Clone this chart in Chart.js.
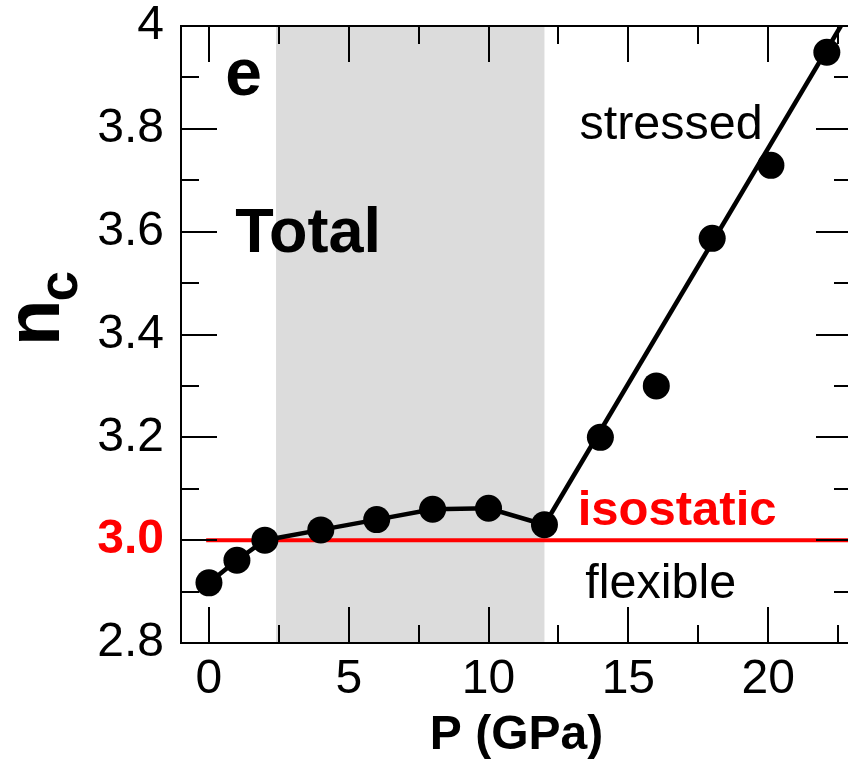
<!DOCTYPE html>
<html>
<head>
<meta charset="utf-8">
<script src="https://cdn.jsdelivr.net/npm/chart.js@4.4.0/dist/chart.umd.min.js"></script>
<style>
html, body { margin: 0; padding: 0; background: #fff; overflow: hidden; }
#wrap { width: 880px; height: 762px; }
</style>
</head>
<body>
<div id="wrap"><canvas id="chart"></canvas></div>
<script>
// pressure (GPa) vs coordination number n_c
const pressureLow = [0, 1, 2, 4, 6, 8, 10, 12];
const ncLow = [2.917, 2.961, 3.0, 3.02, 3.04, 3.06, 3.062, 3.03];
const pressureHigh = [14, 16, 18, 20.1, 22.1];
const ncHigh = [3.2, 3.3, 3.587, 3.729, 3.949];
// straight line through the stressed points
const fitP = [12, 22.6];
const fitN = [3.03, 4.0];
// isostatic level
const isoP = [-0.1, 23];
const isoN = [3.0, 3.0];
// grey window
const shadeP = [2.4, 12];

const xTicks = [0, 5, 10, 15, 20];
const xTickLabels = ['0', '5', '10', '15', '20'];
const yTicks = [2.8, 3.0, 3.2, 3.4, 3.6, 3.8, 4.0];
const yTickLabels = ['2.8', '3.0', '3.2', '3.4', '3.6', '3.8', '4'];

const FONT = '"Liberation Sans", Arial, Helvetica, sans-serif';

function pts(xs, ys) {
    return xs.map((v, i) => ({ x: v, y: ys[i] }));
}

function isIso(c) {
    return !!(c && c.tick && Math.abs(c.tick.value - 3) < 1e-6);
}

const decor = {
    id: 'decor',
    beforeDatasetsDraw(chart) {
        const { ctx, chartArea: a, scales: { x } } = chart;
        const x0 = x.getPixelForValue(shadeP[0]);
        const x1 = x.getPixelForValue(shadeP[1]);
        ctx.save();
        ctx.fillStyle = '#dcdcdc';
        ctx.fillRect(x0, a.top, x1 - x0, a.bottom - a.top);
        ctx.restore();
    },
    afterDatasetsDraw(chart) {
        const { ctx, chartArea: a, scales: { x, y } } = chart;
        ctx.save();
        ctx.strokeStyle = '#000';
        ctx.lineWidth = 2;
        ctx.beginPath();
        // x ticks, major and minor, top and bottom, pointing in
        xTicks.forEach(v => {
            [[v, 36], [v + 2.5, 18]].forEach(([t, len]) => {
                if (t <= x.min || t >= x.max) return;
                const px = Math.round(x.getPixelForValue(t));
                ctx.moveTo(px, a.bottom); ctx.lineTo(px, a.bottom - len);
                ctx.moveTo(px, a.top); ctx.lineTo(px, a.top + len);
            });
        });
        yTicks.forEach(v => {
            [[v, 36], [v + 0.1, 18]].forEach(([t, len]) => {
                if (t <= y.min + 1e-6 || t >= y.max - 1e-6) return;
                const py = Math.round(y.getPixelForValue(t));
                ctx.moveTo(a.left, py); ctx.lineTo(a.left + len, py);
                ctx.moveTo(a.right, py); ctx.lineTo(a.right - len, py);
            });
        });
        ctx.stroke();
        ctx.strokeRect(a.left, a.top, a.right - a.left, a.bottom - a.top);

        // labels inside the plot
        ctx.textAlign = 'left';
        ctx.textBaseline = 'alphabetic';
        ctx.fillStyle = '#000';
        ctx.font = 'bold 66px ' + FONT;
        ctx.fillText('e', x.getPixelForValue(0.58), y.getPixelForValue(3.865));
        ctx.font = 'bold 63px ' + FONT;
        ctx.fillText('Total', x.getPixelForValue(0.94), y.getPixelForValue(3.561));
        ctx.font = '48.5px ' + FONT;
        ctx.fillText('stressed', x.getPixelForValue(13.25), y.getPixelForValue(3.78));
        ctx.fillText('flexible', x.getPixelForValue(13.46), y.getPixelForValue(2.888));
        ctx.fillStyle = '#ff0000';
        ctx.font = 'bold 49px ' + FONT;
        ctx.fillText('isostatic', x.getPixelForValue(13.19), y.getPixelForValue(3.03));
        ctx.restore();
    },
    afterDraw(chart) {
        // rotated y title n_c
        const { ctx } = chart;
        ctx.save();
        ctx.translate(59, 346);
        ctx.rotate(-Math.PI / 2);
        ctx.fillStyle = '#000';
        ctx.textAlign = 'left';
        ctx.textBaseline = 'alphabetic';
        ctx.font = 'bold 76px ' + FONT;
        ctx.fillText('n', 0, 0);
        const w = ctx.measureText('n').width;
        ctx.font = 'bold 55px ' + FONT;
        ctx.fillText('c', w - 2, 18);
        ctx.restore();
    }
};

new Chart(document.getElementById('chart'), {
    type: 'scatter',
    data: {
        datasets: [
            {
                data: pts(isoP, isoN),
                showLine: true,
                borderColor: '#ff0000',
                borderWidth: 4,
                pointRadius: 0,
                order: 3
            },
            {
                data: pts(fitP, fitN),
                showLine: true,
                borderColor: '#000',
                borderWidth: 4.5,
                pointRadius: 0,
                order: 2
            },
            {
                data: pts(pressureLow, ncLow),
                showLine: true,
                borderColor: '#000',
                borderWidth: 4.5,
                pointRadius: 13.5,
                pointBackgroundColor: '#000',
                pointBorderWidth: 0,
                order: 1
            },
            {
                data: pts(pressureHigh, ncHigh),
                showLine: false,
                pointRadius: 13.5,
                pointBackgroundColor: '#000',
                pointBorderWidth: 0,
                order: 1
            }
        ]
    },
    options: {
        responsive: true,
        maintainAspectRatio: false,
        animation: false,
        events: [],
        layout: { padding: { top: 26, right: 28, left: 0, bottom: 0 } },
        plugins: {
            legend: { display: false },
            tooltip: { enabled: false }
        },
        scales: {
            x: {
                type: 'linear',
                min: -1,
                max: 23,
                grid: { display: false, drawTicks: false },
                border: { display: false },
                afterBuildTicks: s => { s.ticks = xTicks.map(v => ({ value: v })); },
                afterFit: s => {
                    s.height = 119;
                    s.paddingLeft = 0;
                    s.paddingRight = 0;
                },
                ticks: {
                    padding: 13,
                    color: '#000',
                    font: { family: FONT, size: 48, lineHeight: 1 },
                    callback: (v, i) => xTickLabels[i]
                },
                title: {
                    display: true,
                    text: 'P (GPa)',
                    color: '#000',
                    font: { family: FONT, size: 48, weight: 'bold', lineHeight: 1 },
                    padding: { top: 0, bottom: 2 }
                }
            },
            y: {
                type: 'linear',
                min: 2.8,
                max: 4,
                grid: { display: false, drawTicks: false },
                border: { display: false },
                afterBuildTicks: s => { s.ticks = yTicks.map(v => ({ value: v })); },
                afterFit: s => {
                    s.width = 181;
                    s.paddingTop = 0;
                    s.paddingBottom = 0;
                },
                ticks: {
                    padding: 17,
                    color: c => isIso(c) ? '#ff0000' : '#000',
                    font: c => ({
                        family: FONT,
                        size: 48,
                        lineHeight: 1,
                        weight: isIso(c) ? 'bold' : 'normal'
                    }),
                    callback: (v, i) => yTickLabels[i]
                }
            }
        }
    },
    plugins: [decor]
});
</script>
</body>
</html>
